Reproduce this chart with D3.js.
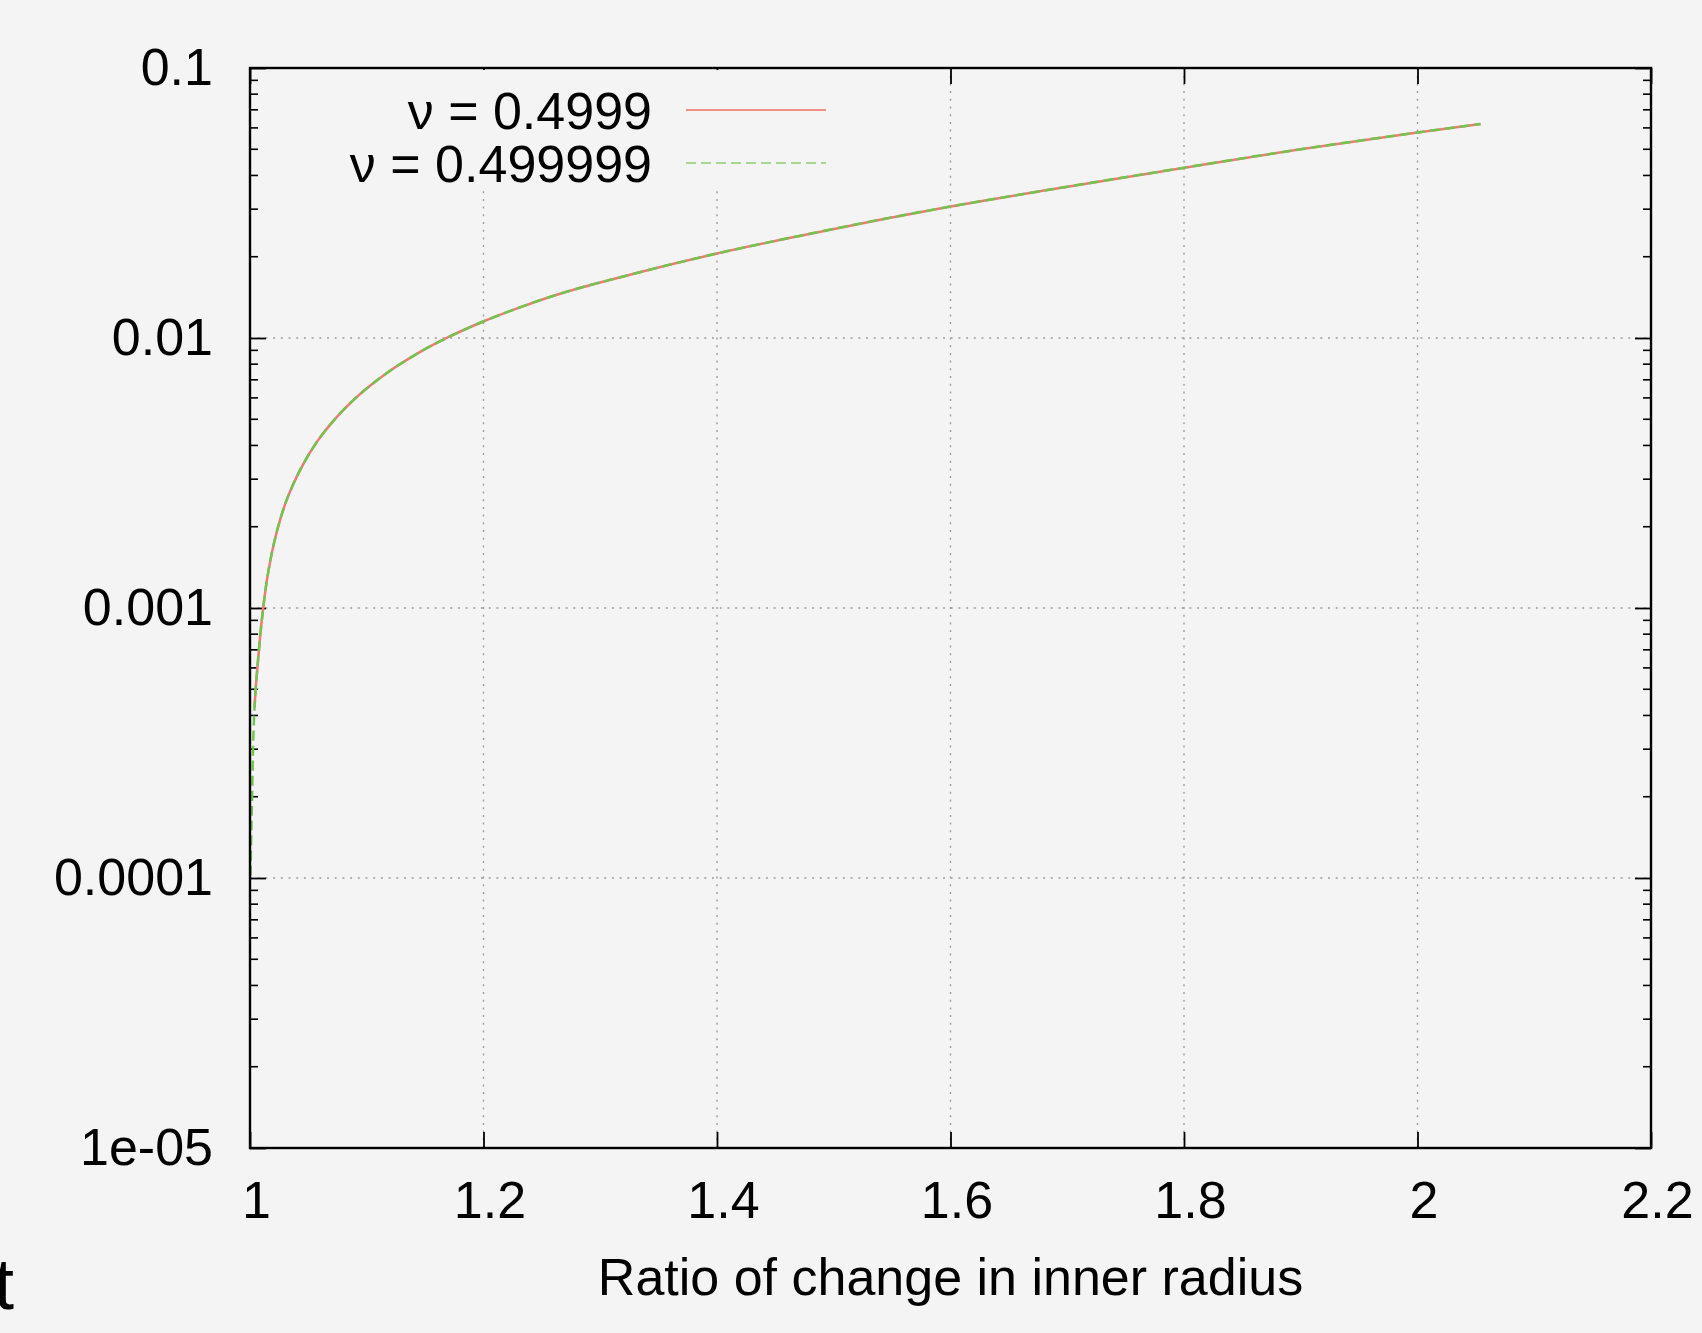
<!DOCTYPE html>
<html>
<head>
<meta charset="utf-8">
<script src="https://cdn.jsdelivr.net/npm/d3@7/dist/d3.min.js"></script>
<style>
  html, body { margin: 0; padding: 0; overflow: hidden; background: #f4f4f4; }
  text { font-family: "Liberation Sans", Arial, Helvetica, sans-serif; fill: #000; }
</style>
</head>
<body>
<div id="chart"></div>
<script>
// Values (x = ratio of change in inner radius, y on log scale)
const ratio = [1.0004, 1.0010, 1.0019, 1.0027, 1.0039, 1.0047, 1.0067, 1.0090, 1.0113, 1.0133,
  1.0176, 1.0233, 1.0290, 1.0375, 1.0461, 1.0576, 1.0718, 1.0861, 1.1146, 1.1432,
  1.1689, 1.2003, 1.2289, 1.2574, 1.3287, 1.4000, 1.4715, 1.5429, 1.6000, 1.6857,
  1.7990, 1.8998, 2.0000, 2.0540];

// nu = 0.4999 starts a little later than nu = 0.499999
const nu4999 = [null, null, null, null, 0.000430, 0.000488, 0.000628, 0.000810, 0.001000, 0.001169,
  0.001514, 0.001941, 0.002350, 0.002904, 0.003443, 0.004140, 0.004955, 0.005754, 0.007278, 0.008750,
  0.010023, 0.011535, 0.012882, 0.014223, 0.017298, 0.020559, 0.023933, 0.027606, 0.030690, 0.035481,
  0.042658, 0.050003, 0.057677, 0.062087];

const nu499999 = [0.000102, 0.000140, 0.000210, 0.000310, 0.000430, 0.000488, 0.000628, 0.000810, 0.001000, 0.001169,
  0.001514, 0.001941, 0.002350, 0.002904, 0.003443, 0.004140, 0.004955, 0.005754, 0.007278, 0.008750,
  0.010023, 0.011535, 0.012882, 0.014223, 0.017298, 0.020559, 0.023933, 0.027606, 0.030690, 0.035481,
  0.042658, 0.050003, 0.057677, 0.062087];

const seriesNames = ["ν = 0.4999", "ν = 0.499999"];

const xTicks = [1, 1.2, 1.4, 1.6, 1.8, 2, 2.2];
const xTickLabels = ["1", "1.2", "1.4", "1.6", "1.8", "2", "2.2"];
const yTicks = [1e-5, 1e-4, 1e-3, 1e-2, 1e-1];
const yTickLabels = ["1e-05", "0.0001", "0.001", "0.01", "0.1"];

// Set up dimensions
const margin = {top: 68, right: 51, bottom: 185, left: 250};
const width = 1702 - margin.left - margin.right;
const height = 1333 - margin.top - margin.bottom;
const bg = "#f4f4f4";

const root = d3.select("#chart")
  .append("svg")
  .attr("width", 1702)
  .attr("height", 1333)
  .style("display", "block")
  .style("background", bg);

const svg = root.append("g")
  .attr("transform", `translate(${margin.left},${margin.top})`);

const x = d3.scaleLinear().domain([1, 2.2]).range([0, width]);
const y = d3.scaleLog().domain([1e-5, 0.1]).range([height, 0]);

// Grid (dotted), interior ticks only
const grid = svg.append("g")
  .attr("stroke", "#9c9c9c")
  .attr("stroke-width", 1.4)
  .attr("stroke-dasharray", "2,5.7");

grid.selectAll(".gx")
  .data(xTicks.slice(1, -1))
  .join("line")
  .attr("x1", d => x(d)).attr("x2", d => x(d))
  .attr("y1", 0).attr("y2", height);

grid.selectAll(".gy")
  .data(yTicks.slice(1, -1))
  .join("line")
  .attr("x1", 0).attr("x2", width)
  .attr("y1", d => y(d)).attr("y2", d => y(d));

// Axes, ticks pointing inward
const fontSize = 52;

svg.append("g")
  .attr("transform", `translate(0,${height})`)
  .call(d3.axisBottom(x).tickValues(xTicks).tickFormat((d, i) => xTickLabels[i])
    .tickSize(-16).tickPadding(33))
  .call(g => g.select(".domain").remove())
  .call(g => g.selectAll("line").attr("stroke", "#000").attr("stroke-width", 1.8))
  .call(g => g.selectAll("text").attr("dx", 6).style("font-size", fontSize + "px").attr("font-family", null));

svg.append("g")
  .call(d3.axisTop(x).tickValues(xTicks).tickFormat("").tickSize(-16))
  .call(g => g.select(".domain").remove())
  .call(g => g.selectAll("line").attr("stroke", "#000").attr("stroke-width", 1.8));

svg.append("g")
  .call(d3.axisLeft(y).tickValues(yTicks).tickFormat((d, i) => yTickLabels[i])
    .tickSize(-16).tickPadding(37))
  .call(g => g.select(".domain").remove())
  .call(g => g.selectAll("line").attr("stroke", "#000").attr("stroke-width", 1.8))
  .call(g => g.selectAll("text").style("font-size", fontSize + "px").attr("font-family", null));

svg.append("g")
  .attr("transform", `translate(${width},0)`)
  .call(d3.axisRight(y).tickValues(yTicks).tickFormat("").tickSize(-16))
  .call(g => g.select(".domain").remove())
  .call(g => g.selectAll("line").attr("stroke", "#000").attr("stroke-width", 1.8));

// Minor log ticks on left and right
const minor = [];
[1e-5, 1e-4, 1e-3, 1e-2].forEach(p => d3.range(2, 10).forEach(m => minor.push(p * m)));

svg.append("g")
  .attr("stroke", "#000")
  .attr("stroke-width", 1.6)
  .selectAll("line")
  .data(minor.flatMap(v => [{v, side: 0}, {v, side: 1}]))
  .join("line")
  .attr("x1", d => d.side ? width : 0)
  .attr("x2", d => d.side ? width - 8 : 8)
  .attr("y1", d => y(d.v)).attr("y2", d => y(d.v));

// Legend (opaque box hides the grid behind it)
const legend = svg.append("g");
legend.append("rect")
  .attr("x", 95).attr("y", 2)
  .attr("width", 500).attr("height", 116)
  .attr("fill", bg);

const colors = ["#ee7b73", "#72c44e"];
const dashes = [null, "10,5"];

const rows = legend.selectAll(".row")
  .data(seriesNames)
  .join("g")
  .attr("transform", (_, i) => `translate(0,${42 + i * 53})`);

rows.append("text")
  .attr("x", 402)
  .attr("dy", "0.36em")
  .attr("text-anchor", "end")
  .style("font-size", fontSize + "px")
  .text(d => d);

rows.append("line")
  .attr("x1", 436).attr("x2", 576)
  .attr("stroke", (_, i) => colors[i])
  .attr("stroke-opacity", (_, i) => i ? 0.6 : 0.85)
  .attr("stroke-width", 2.2)
  .attr("stroke-dasharray", (_, i) => dashes[i]);

// Curves
const line = d3.line()
  .defined(d => d[1] != null)
  .x(d => x(d[0]))
  .y(d => y(d[1]))
  .curve(d3.curveMonotoneX);

[nu4999, nu499999].forEach((vals, i) => {
  svg.append("path")
    .datum(ratio.map((r, j) => [r, vals[j]]))
    .attr("fill", "none")
    .attr("stroke", colors[i])
    .attr("stroke-width", 2.5)
    .attr("stroke-dasharray", dashes[i])
    .attr("d", line);
});

// Border
svg.append("rect")
  .attr("width", width).attr("height", height)
  .attr("fill", "none")
  .attr("stroke", "#000")
  .attr("stroke-width", 2.4);

// X axis title
svg.append("text")
  .attr("x", width / 2)
  .attr("y", height + 147)
  .attr("text-anchor", "middle")
  .style("font-size", fontSize + "px")
  .text("Ratio of change in inner radius");

// Cut-off fragment at the lower left edge
root.append("text")
  .attr("x", -6)
  .attr("y", 1309)
  .style("font-size", "72px")
  .text("t");
</script>
</body>
</html>
